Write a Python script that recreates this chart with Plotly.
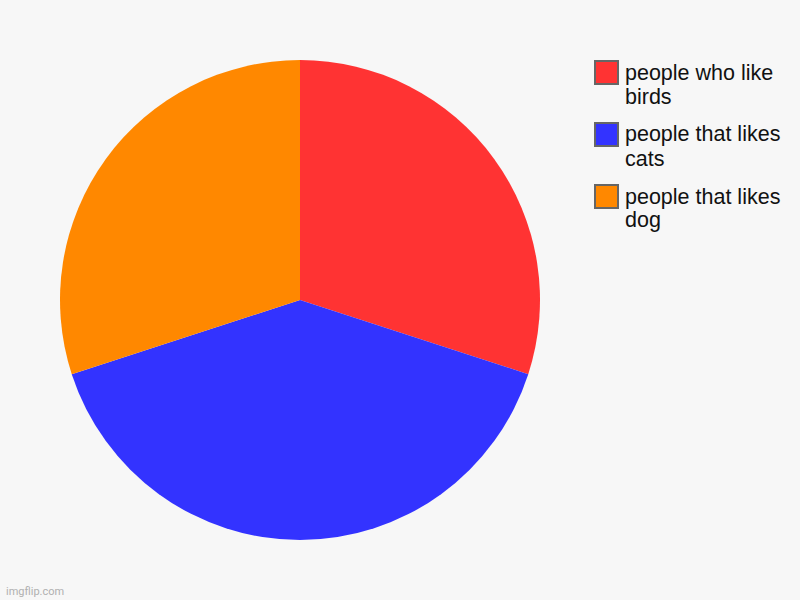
import plotly.graph_objects as go

labels = ["people who like birds", "people that likes cats", "people that likes dog"]
legend_lines = [["people who like", "birds"], ["people that likes", "cats"], ["people that likes", "dog"]]
values = [3, 4, 3]
colors = ["#ff3333", "#3333ff", "#ff8800"]

W, H = 800, 600
BG = "#f7f7f7"
FONT = "Liberation Sans, Arial, sans-serif"


def px(x):
    return x / W


def py(y):
    return 1 - y / H


fig = go.Figure(go.Pie(
    labels=labels,
    values=values,
    marker=dict(colors=colors, line=dict(width=0)),
    sort=False,
    direction="clockwise",
    rotation=0,
    textinfo="none",
    hoverinfo="label+value",
    showlegend=False,
    domain=dict(x=[px(60), px(540)], y=[py(540), py(60)]),
))

# hand-made legend so the swatches and text match the original size
shapes = []
annotations = []
for i, (lines, col) in enumerate(zip(legend_lines, colors)):
    cy = 72.5 + i * 62
    shapes.append(dict(
        type="rect", xref="paper", yref="paper",
        x0=px(595), x1=px(618), y0=py(cy + 11.5), y1=py(cy - 11.5),
        fillcolor=col, line=dict(color="#666666", width=2),
    ))
    for j, txt in enumerate(lines):
        annotations.append(dict(
            text=txt, xref="paper", yref="paper",
            x=px(623), y=py(cy + j * 24),
            xanchor="left", yanchor="middle", showarrow=False,
            font=dict(family=FONT, size=21.5, color="#111111"),
        ))

annotations.append(dict(
    text="imgflip.com", xref="paper", yref="paper",
    x=px(4), y=py(591), xanchor="left", yanchor="middle", showarrow=False,
    font=dict(family="Roboto, " + FONT, size=11, color="#b0b0b0"),
))

fig.update_layout(
    width=W, height=H,
    margin=dict(l=0, r=0, t=0, b=0),
    paper_bgcolor=BG,
    plot_bgcolor=BG,
    shapes=shapes,
    annotations=annotations,
)

# drop the browser's default body margin so the chart fills the window
fig.write_html(
    "out.html",
    config={"displayModeBar": False},
    post_script="document.body.style.margin='0';document.body.style.background='%s';" % BG,
)
